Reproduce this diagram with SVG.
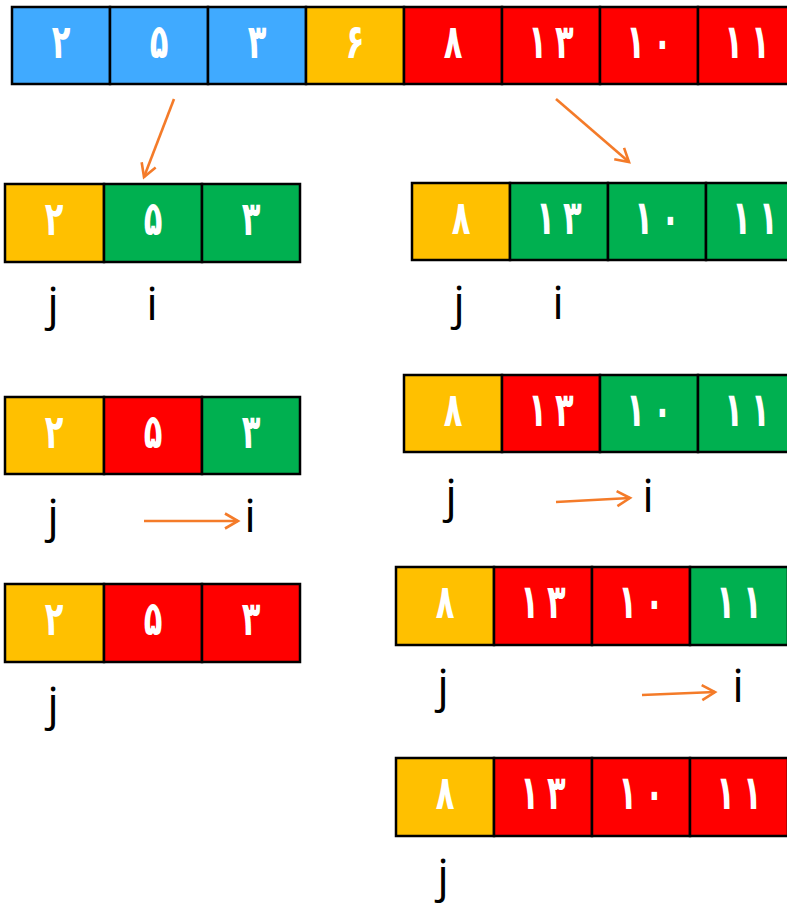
<svg xmlns="http://www.w3.org/2000/svg" width="787" height="906" viewBox="0 0 787 906">
<style>
.c{stroke:#000;stroke-width:2.5}
.b{fill:#40AAFF}.y{fill:#FFC000}.r{fill:#FF0000}.g{fill:#00B050}
.d{font-family:"DejaVu Sans",sans-serif;font-weight:bold;font-size:34px;fill:#fff;text-anchor:middle}
.l{font-family:"Open Sans","DejaVu Sans",sans-serif;font-size:46px;fill:#000;text-anchor:middle}
.a{stroke:#F47B29;stroke-width:2.6;fill:none}
</style>
<defs>
<marker id="ah" markerUnits="userSpaceOnUse" markerWidth="24" markerHeight="24" refX="15" refY="9" orient="auto">
<path d="M2,1.5 L15,9 L2,16.5" fill="none" stroke="#F47B29" stroke-width="2.6"/>
</marker>
</defs>

<g id="top-array">
<rect class="c b" x="12" y="7" width="98" height="77"/><text class="d" transform="translate(61,58) scale(0.9,1.4)">۲</text>
<rect class="c b" x="110" y="7" width="98" height="77"/><text class="d" transform="translate(159,58) scale(0.9,1.4)">۵</text>
<rect class="c b" x="208" y="7" width="98" height="77"/><text class="d" transform="translate(257,58) scale(0.9,1.4)">۳</text>
<rect class="c y" x="306" y="7" width="98" height="77"/><text class="d" transform="translate(355,58) scale(0.9,1.4)">۶</text>
<rect class="c r" x="404" y="7" width="98" height="77"/><text class="d" transform="translate(453,58) scale(0.9,1.4)">۸</text>
<rect class="c r" x="502" y="7" width="98" height="77"/><text class="d" transform="translate(551,58) scale(0.9,1.4)">۱<tspan dx="9">۳</tspan></text>
<rect class="c r" x="600" y="7" width="98" height="77"/><text class="d" transform="translate(649,58) scale(0.9,1.4)">۱<tspan dx="9">۰</tspan></text>
<rect class="c r" x="698" y="7" width="98" height="77"/><text class="d" transform="translate(747,58) scale(0.9,1.4)">۱<tspan dx="9">۱</tspan></text>
</g>

<g id="left-1">
<rect class="c y" x="5" y="184" width="99" height="78"/><text class="d" transform="translate(54,235) scale(0.9,1.4)">۲</text>
<rect class="c g" x="104" y="184" width="98" height="78"/><text class="d" transform="translate(153,235) scale(0.9,1.4)">۵</text>
<rect class="c g" x="202" y="184" width="98" height="78"/><text class="d" transform="translate(251,235) scale(0.9,1.4)">۳</text>
<text class="l" x="53" y="320">j</text><text class="l" x="152" y="320">i</text>
</g>

<g id="right-1">
<rect class="c y" x="412" y="183" width="98" height="77"/><text class="d" transform="translate(461,234) scale(0.9,1.4)">۸</text>
<rect class="c g" x="510" y="183" width="98" height="77"/><text class="d" transform="translate(559,234) scale(0.9,1.4)">۱<tspan dx="9">۳</tspan></text>
<rect class="c g" x="608" y="183" width="98" height="77"/><text class="d" transform="translate(657,234) scale(0.9,1.4)">۱<tspan dx="9">۰</tspan></text>
<rect class="c g" x="706" y="183" width="98" height="77"/><text class="d" transform="translate(755,234) scale(0.9,1.4)">۱<tspan dx="9">۱</tspan></text>
<text class="l" x="459" y="319">j</text><text class="l" x="558" y="319">i</text>
</g>

<g id="left-2">
<rect class="c y" x="5" y="397" width="99" height="77"/><text class="d" transform="translate(54,448) scale(0.9,1.4)">۲</text>
<rect class="c r" x="104" y="397" width="98" height="77"/><text class="d" transform="translate(153,448) scale(0.9,1.4)">۵</text>
<rect class="c g" x="202" y="397" width="98" height="77"/><text class="d" transform="translate(251,448) scale(0.9,1.4)">۳</text>
<text class="l" x="53" y="532">j</text><text class="l" x="250" y="532">i</text>
</g>

<g id="right-2">
<rect class="c y" x="404" y="375" width="98" height="77"/><text class="d" transform="translate(453,426) scale(0.9,1.4)">۸</text>
<rect class="c r" x="502" y="375" width="98" height="77"/><text class="d" transform="translate(551,426) scale(0.9,1.4)">۱<tspan dx="9">۳</tspan></text>
<rect class="c g" x="600" y="375" width="98" height="77"/><text class="d" transform="translate(649,426) scale(0.9,1.4)">۱<tspan dx="9">۰</tspan></text>
<rect class="c g" x="698" y="375" width="98" height="77"/><text class="d" transform="translate(747,426) scale(0.9,1.4)">۱<tspan dx="9">۱</tspan></text>
<text class="l" x="451" y="512">j</text><text class="l" x="648" y="512">i</text>
</g>

<g id="left-3">
<rect class="c y" x="5" y="584" width="99" height="78"/><text class="d" transform="translate(54,635) scale(0.9,1.4)">۲</text>
<rect class="c r" x="104" y="584" width="98" height="78"/><text class="d" transform="translate(153,635) scale(0.9,1.4)">۵</text>
<rect class="c r" x="202" y="584" width="98" height="78"/><text class="d" transform="translate(251,635) scale(0.9,1.4)">۳</text>
<text class="l" x="53" y="720">j</text>
</g>

<g id="right-3">
<rect class="c y" x="396" y="567" width="98" height="78"/><text class="d" transform="translate(445,618) scale(0.9,1.4)">۸</text>
<rect class="c r" x="494" y="567" width="98" height="78"/><text class="d" transform="translate(543,618) scale(0.9,1.4)">۱<tspan dx="9">۳</tspan></text>
<rect class="c r" x="592" y="567" width="98" height="78"/><text class="d" transform="translate(641,618) scale(0.9,1.4)">۱<tspan dx="9">۰</tspan></text>
<rect class="c g" x="690" y="567" width="98" height="78"/><text class="d" transform="translate(739,618) scale(0.9,1.4)">۱<tspan dx="9">۱</tspan></text>
<text class="l" x="443" y="702">j</text><text class="l" x="738" y="702">i</text>
</g>

<g id="right-4">
<rect class="c y" x="396" y="758" width="98" height="78"/><text class="d" transform="translate(445,809) scale(0.9,1.4)">۸</text>
<rect class="c r" x="494" y="758" width="98" height="78"/><text class="d" transform="translate(543,809) scale(0.9,1.4)">۱<tspan dx="9">۳</tspan></text>
<rect class="c r" x="592" y="758" width="98" height="78"/><text class="d" transform="translate(641,809) scale(0.9,1.4)">۱<tspan dx="9">۰</tspan></text>
<rect class="c r" x="690" y="758" width="98" height="78"/><text class="d" transform="translate(739,809) scale(0.9,1.4)">۱<tspan dx="9">۱</tspan></text>
<text class="l" x="443" y="892">j</text>
</g>

<g id="connectors">
<line class="a" x1="174" y1="99" x2="144" y2="177" marker-end="url(#ah)"/>
<line class="a" x1="556" y1="99" x2="629" y2="162" marker-end="url(#ah)"/>
<line class="a" x1="144" y1="521" x2="238" y2="521" marker-end="url(#ah)"/>
<line class="a" x1="556" y1="502" x2="630" y2="498" marker-end="url(#ah)"/>
<line class="a" x1="642" y1="695" x2="715" y2="692" marker-end="url(#ah)"/>
</g>
</svg>
